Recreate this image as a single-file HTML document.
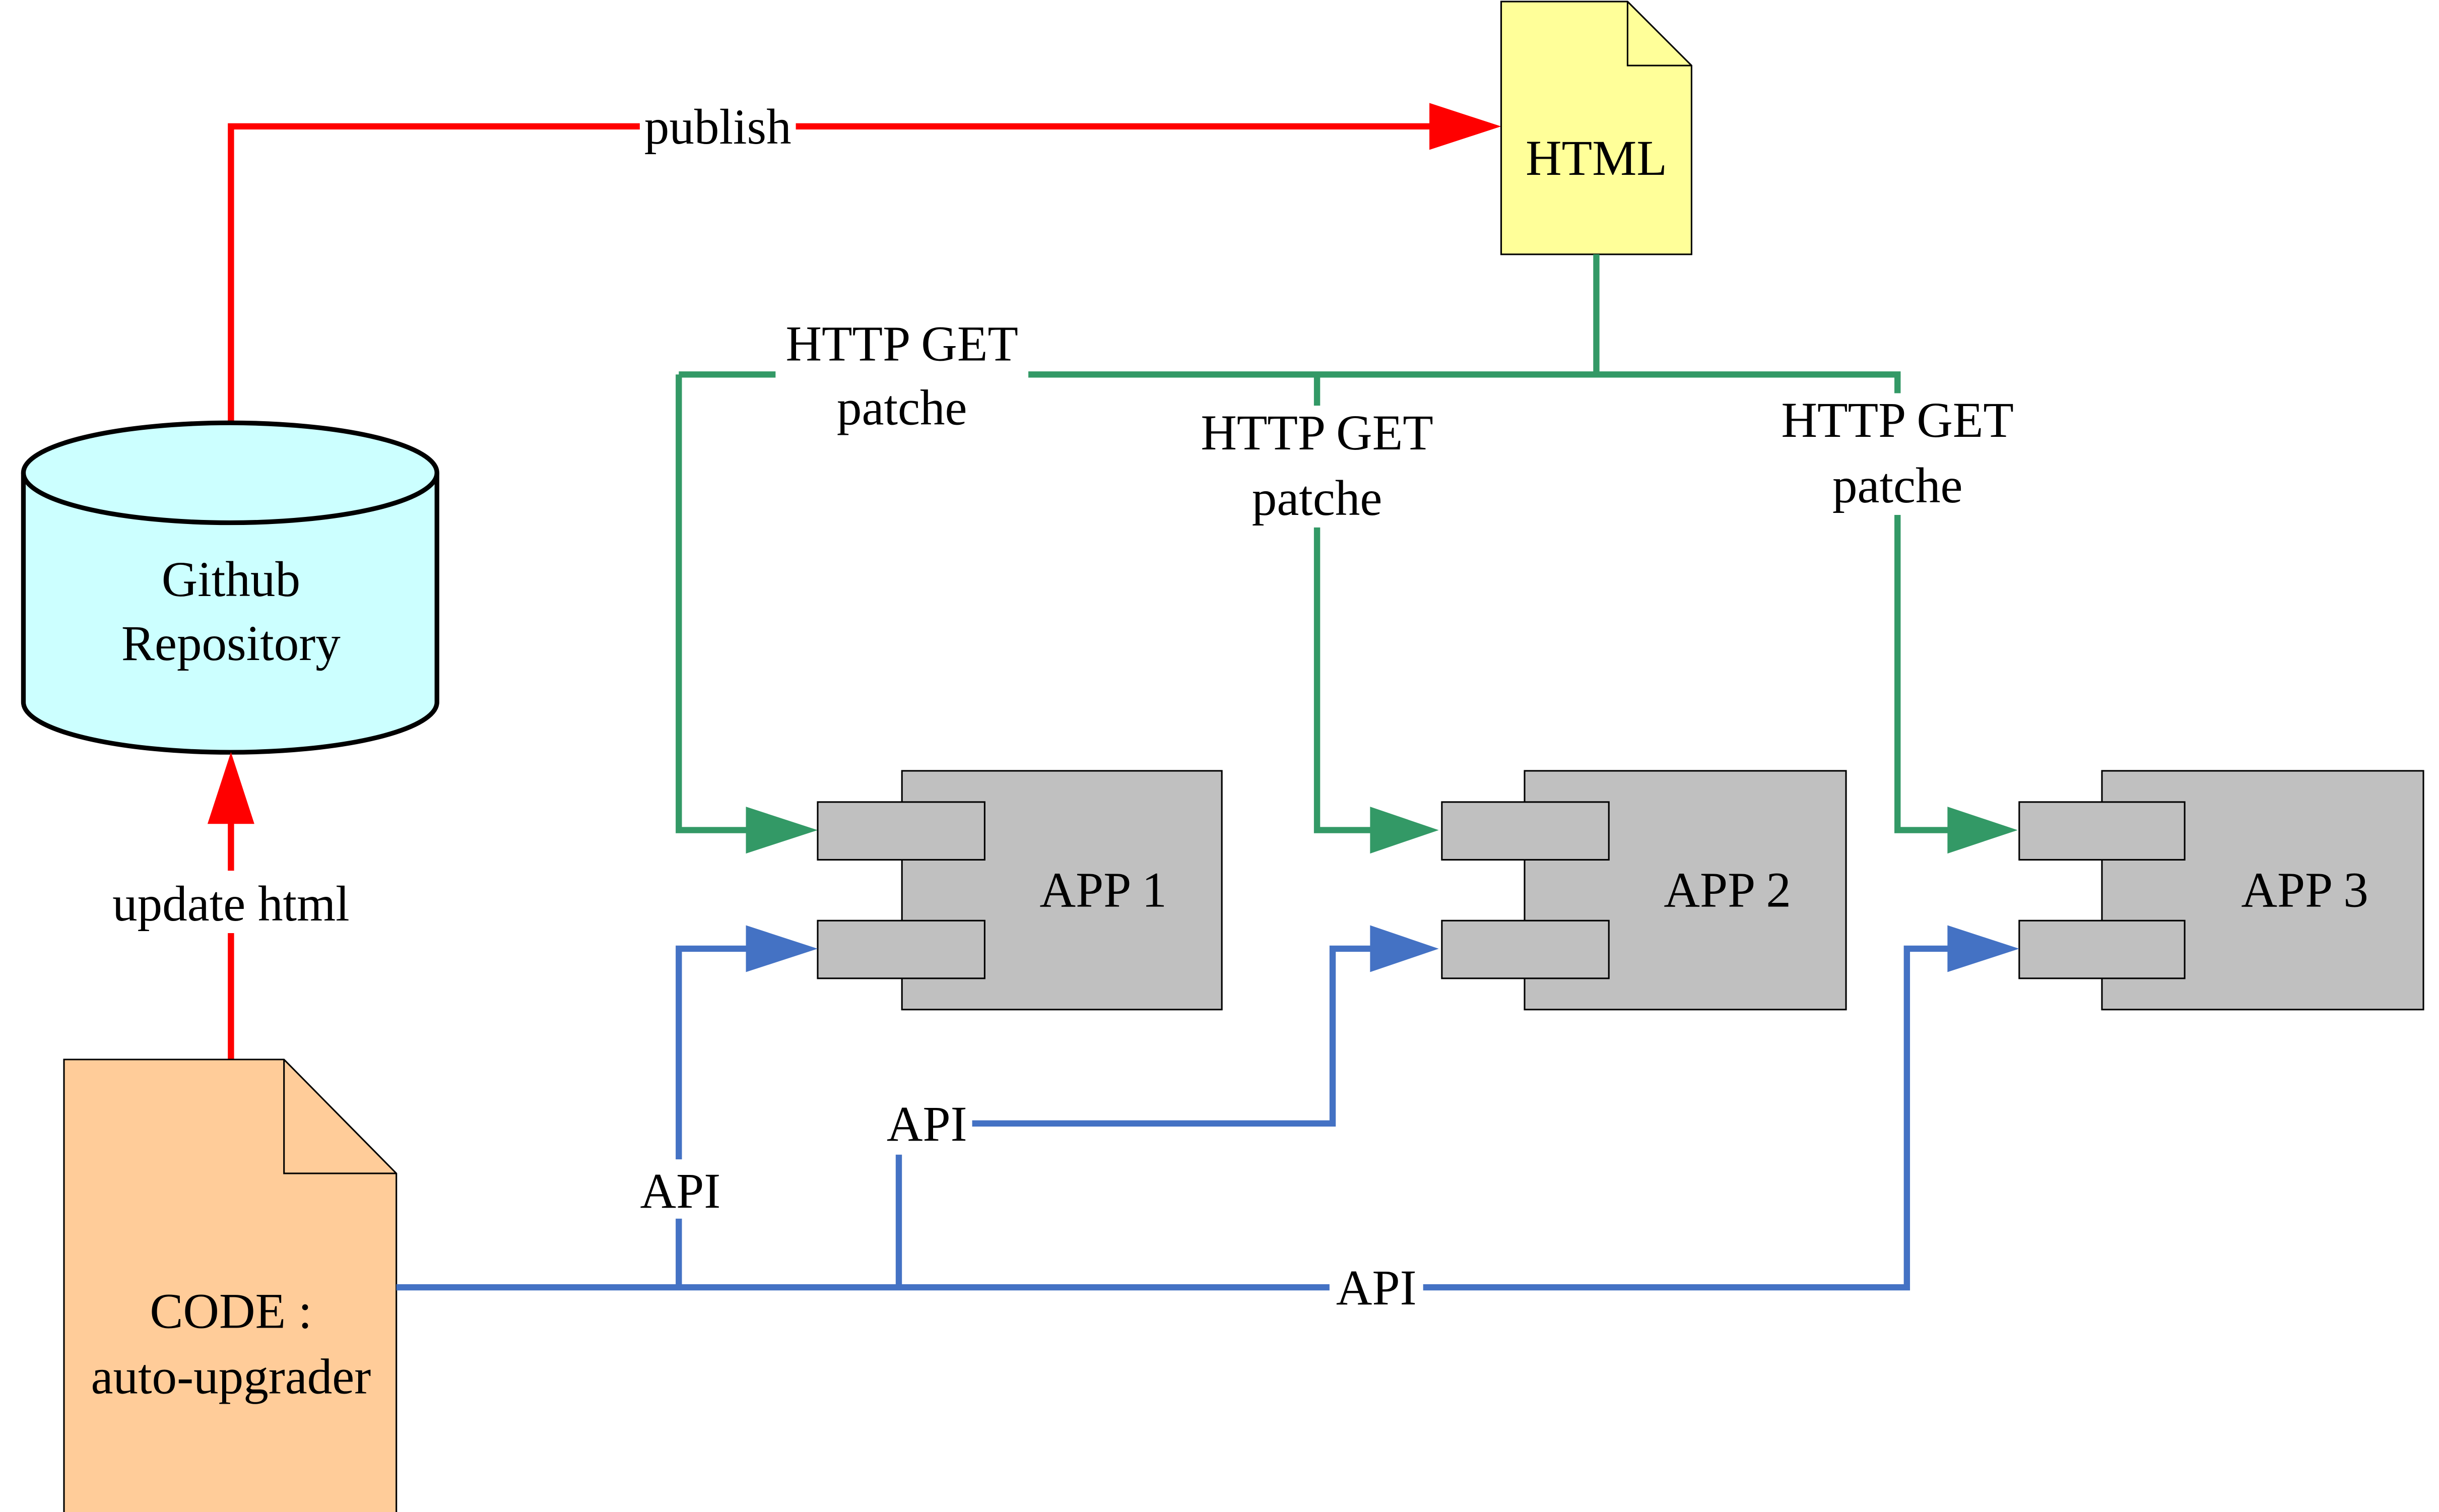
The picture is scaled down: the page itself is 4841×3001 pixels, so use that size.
<!DOCTYPE html>
<html><head><meta charset="utf-8"><style>html,body{margin:0;padding:0;background:#fff}svg{display:block}</style></head>
<body>
<svg width="4841" height="3001" viewBox="0 0 1563 969" preserveAspectRatio="none" xmlns="http://www.w3.org/2000/svg" font-family="'Liberation Serif', serif" font-size="32">
<!-- red publish -->
<polyline points="148,270 148,81 920,81" fill="none" stroke="#FF0000" stroke-width="4"/>
<polygon points="916,66 962,81 916,96" fill="#FF0000"/>
<rect x="410" y="62" width="100" height="38" fill="#fff"/>
<text x="460" y="92" text-anchor="middle">publish</text>
<!-- HTML doc -->
<path d="M962,1 L1043,1 L1084,42 L1084,163 L962,163 Z" fill="#FFFF99" stroke="#000" stroke-width="1"/>
<path d="M1043,1 L1043,42 L1084,42" fill="none" stroke="#000" stroke-width="1"/>
<text x="1023" y="112" text-anchor="middle">HTML</text>
<!-- Github cylinder -->
<path d="M15,303 L15,450 A132,32 0 0 0 280,450 L280,303" fill="#CCFFFF" stroke="#000" stroke-width="3"/>
<ellipse cx="147.5" cy="303" rx="132.5" ry="32" fill="#CCFFFF" stroke="#000" stroke-width="3"/>
<text x="148" y="382" text-anchor="middle">Github</text>
<text x="148" y="423" text-anchor="middle">Repository</text>
<!-- red update -->
<line x1="148" y1="680" x2="148" y2="526" stroke="#FF0000" stroke-width="4"/>
<polygon points="133,528 148,482 163,528" fill="#FF0000"/>
<rect x="62" y="558" width="172" height="40" fill="#fff"/>
<text x="148" y="590" text-anchor="middle">update html</text>
<!-- CODE doc -->
<path d="M41,679 L182,679 L254,752 L254,970 L41,970 Z" fill="#FFCC99" stroke="#000" stroke-width="1"/>
<path d="M182,679 L182,752 L254,752" fill="none" stroke="#000" stroke-width="1"/>
<text x="148" y="851" text-anchor="middle">CODE :</text>
<text x="148" y="893" text-anchor="middle">auto-upgrader</text>
<!-- green -->
<g fill="none" stroke="#339966" stroke-width="4">
<line x1="1023" y1="163" x2="1023" y2="240"/>
<line x1="435" y1="240" x2="1218" y2="240"/>
<polyline points="435,240 435,532 482,532"/>
<line x1="844" y1="240" x2="844" y2="260"/>
<polyline points="844,338 844,532 882,532"/>
<line x1="1216" y1="240" x2="1216" y2="255"/>
<polyline points="1216,330 1216,532 1252,532"/>
</g>
<g fill="#339966">
<polygon points="478,517 524,532 478,547"/>
<polygon points="878,517 922,532 878,547"/>
<polygon points="1248,517 1293,532 1248,547"/>
</g>
<rect x="497" y="202" width="162" height="76" fill="#fff"/>
<text x="578" y="231" text-anchor="middle">HTTP GET</text>
<text x="578" y="272" text-anchor="middle">patche</text>
<rect x="763" y="260" width="162" height="78" fill="#fff"/>
<text x="844" y="288" text-anchor="middle">HTTP GET</text>
<text x="844" y="330" text-anchor="middle">patche</text>
<rect x="1135" y="252" width="162" height="78" fill="#fff"/>
<text x="1216" y="280" text-anchor="middle">HTTP GET</text>
<text x="1216" y="322" text-anchor="middle">patche</text>
<!-- apps -->
<g fill="#C0C0C0" stroke="#000" stroke-width="1">
<rect x="578" y="494" width="205" height="153"/>
<rect x="524" y="514" width="107" height="37"/>
<rect x="524" y="590" width="107" height="37"/>
<rect x="977" y="494" width="206" height="153"/>
<rect x="924" y="514" width="107" height="37"/>
<rect x="924" y="590" width="107" height="37"/>
<rect x="1347" y="494" width="206" height="153"/>
<rect x="1294" y="514" width="106" height="37"/>
<rect x="1294" y="590" width="106" height="37"/>
</g>
<text x="707" y="581" text-anchor="middle">APP 1</text>
<text x="1107" y="581" text-anchor="middle">APP 2</text>
<text x="1477" y="581" text-anchor="middle">APP 3</text>
<!-- blue -->
<g fill="none" stroke="#4472C4" stroke-width="4">
<polyline points="254,825 1222,825 1222,608 1252,608"/>
<polyline points="435,825 435,608 482,608"/>
<line x1="576" y1="825" x2="576" y2="740"/>
<polyline points="620,720 854,720 854,608 882,608"/>
</g>
<g fill="#4472C4">
<polygon points="478,593 524,608 478,623"/>
<polygon points="878,593 922,608 878,623"/>
<polygon points="1248,593 1294,608 1248,623"/>
</g>
<rect x="405" y="743" width="62" height="38" fill="#fff"/>
<text x="436" y="774" text-anchor="middle">API</text>
<rect x="563" y="701" width="60" height="38" fill="#fff"/>
<text x="594" y="731" text-anchor="middle">API</text>
<rect x="852" y="806" width="60" height="38" fill="#fff"/>
<text x="882" y="836" text-anchor="middle">API</text>
</svg>
</body></html>
